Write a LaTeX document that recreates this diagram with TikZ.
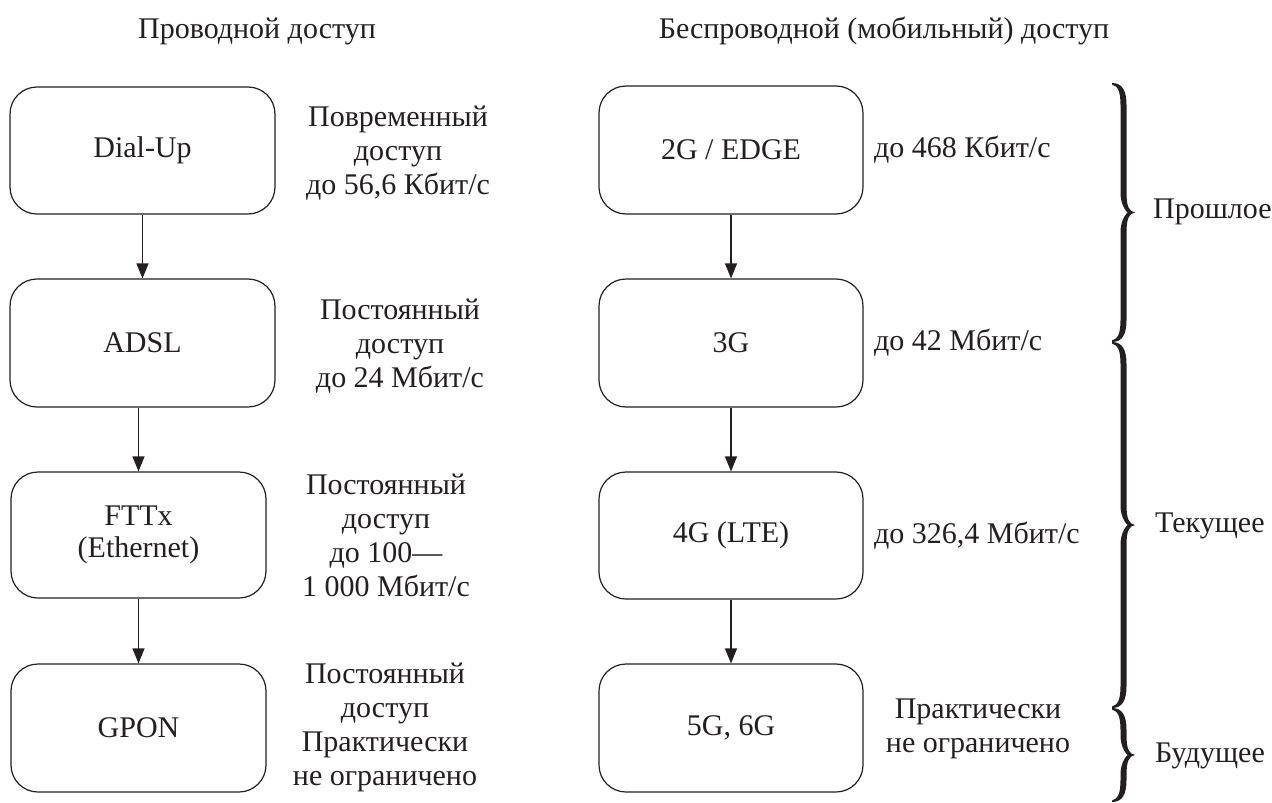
\documentclass[tikz,border=0pt]{standalone}
\usepackage{fontspec}
\setmainfont{Liberation Serif}
\usetikzlibrary{arrows.meta}
\definecolor{ink}{RGB}{35,31,32}
\newcommand\mybrace[3]{%
  \pgfmathsetmacro\bym{(#2+#3)/2}%
  \pgfmathsetmacro\bso{#1+14.5}%
  \pgfmathsetmacro\bsi{#1+8.5}%
  \pgfmathsetmacro\btt{#1+23}%
  \fill[ink] (#1,#2) .. controls (\bso-4,#2) and (\bso,#2+8) .. (\bso,#2+22)
    -- (\bso,\bym-20)
    .. controls (\bso,\bym-6) and (\btt-6,\bym-1) .. (\btt,\bym)
    .. controls (\btt-6,\bym+1) and (\bso,\bym+6) .. (\bso,\bym+20)
    -- (\bso,#3-22)
    .. controls (\bso,#3-8) and (\bso-4,#3) .. (#1,#3)
    -- (#1,#3-1.5)
    .. controls (\bsi-2,#3-3) and (\bsi,#3-10) .. (\bsi,#3-22)
    -- (\bsi,\bym+20)
    .. controls (\bsi,\bym+8) and (\bsi+5,\bym+2) .. (\bsi+7,\bym)
    .. controls (\bsi+5,\bym-2) and (\bsi,\bym-8) .. (\bsi,\bym-20)
    -- (\bsi,#2+22)
    .. controls (\bsi,#2+10) and (\bsi-2,#2+3) .. (#1,#2+1.5) -- cycle;}
\begin{document}
\begin{tikzpicture}[x=1pt,y=-1pt,
  every node/.style={text=ink},
  box/.style={draw=ink, line width=1.2pt, rounded corners=27pt, align=center,
    inner sep=0pt, font=\fontsize{30}{32}\selectfont},
  note/.style={align=center, inner sep=0pt, font=\fontsize{30}{34}\selectfont},
  arr/.style={draw=ink, line width=1.2pt, -{Triangle[length=15pt,width=12pt]}},
  lbl/.style={anchor=base west, inner sep=0pt, font=\fontsize{30}{34}\selectfont},
]
\useasboundingbox (0,0) rectangle (1272,803);

% headers
\node[note, anchor=base] (h1) at (257,38) {Проводной доступ};
\node[note, anchor=base] (h2) at (884,38) {Беспроводной (мобильный) доступ};

% left column boxes
\node[box, minimum width=265pt, minimum height=127pt] (dial) at (142.5,150.5) {Dial-Up};
\node[box, minimum width=265pt, minimum height=128pt] (adsl) at (142.5,343) {ADSL};
\node[box, minimum width=255pt, minimum height=126pt] (fttx) at (138.5,535) {FTTx\\(Ethernet)};
\node[box, minimum width=255pt, minimum height=128pt] (gpon) at (138.5,728) {GPON};

% right column boxes
\node[box, minimum width=264pt, minimum height=128pt] (g2) at (731,150) {2G / EDGE};
\node[box, minimum width=264pt, minimum height=128pt] (g3) at (731,343) {3G};
\node[box, minimum width=264pt, minimum height=127pt] (g4) at (731,535.5) {4G (LTE)};
\node[box, minimum width=264pt, minimum height=128pt] (g5) at (731,728) {5G, 6G};

% arrows
\draw[arr] (dial.south) -- (adsl.north);
\draw[arr] (fttx.north |- adsl.south) -- (fttx.north);
\draw[arr] (fttx.south) -- (gpon.north);
\draw[arr] (g2.south) -- (g3.north);
\draw[arr] (g3.south) -- (g4.north);
\draw[arr] (g4.south) -- (g5.north);

% left notes
\node[note] (n1) at (398,153) {Повременный\\доступ\\до 56,6 Кбит/с};
\node[note] (n2) at (400,346) {Постоянный\\доступ\\до 24 Мбит/с};
\node[note] (n3) at (386,535) {Постоянный\\доступ\\до 100—\\1 000 Мбит/с};
\node[note] (n4) at (385,727) {Постоянный\\доступ\\Практически\\не ограничено};

% right notes
\node[note, anchor=west] (r1) at (874,150) {до 468 Кбит/с};
\node[note, anchor=west] (r2) at (874,343) {до 42 Мбит/с};
\node[note, anchor=west] (r3) at (874,536) {до 326,4 Мбит/с};
\node[note] (r4) at (978,729) {Практически\\не ограничено};

% braces
\mybrace{1112}{83}{342}
\mybrace{1112}{342}{708}
\mybrace{1112}{708}{802}

\node[lbl] (p1) at (1153,218) {Прошлое};
\node[lbl] (p2) at (1155,532) {Текущее};
\node[lbl] (p3) at (1155,762) {Будущее};
\end{tikzpicture}
\end{document}
